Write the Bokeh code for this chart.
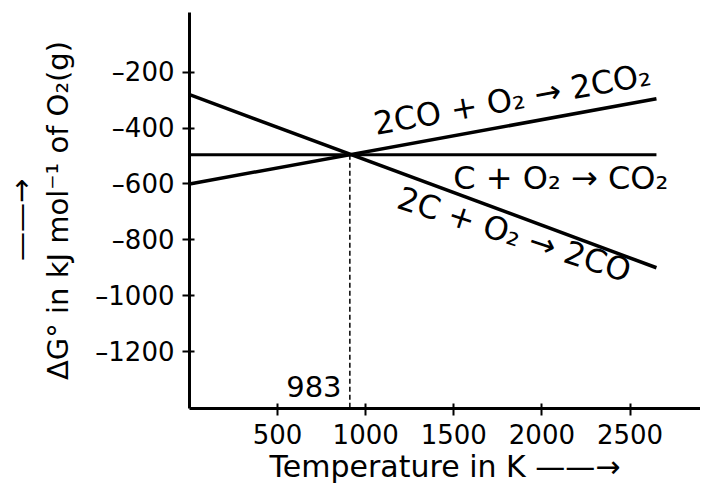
from bokeh.plotting import figure
from bokeh.models import FixedTicker, Label, Range1d
from bokeh.embed import file_html
from bokeh.resources import INLINE

# ---- data ----
T = [0, 2650]                       # temperature, K
co_to_co2 = [-600, -295]            # 2CO + O2 -> 2CO2
c_to_co2 = [-495, -495]             # C + O2 -> CO2
c_to_co = [-280, -900]              # 2C + O2 -> 2CO
cross_T = 910                       # where the dashed line meets the axis
cross_G = -495
cross_label = "983"

x_ticks = [500, 1000, 1500, 2000, 2500]
y_ticks = [-200, -400, -600, -800, -1000, -1200]
y_tick_labels = ["–200", "–400", "–600", "–800", "–1000", "–1200"]

label_co_co2 = "2CO + O₂ → 2CO₂"
label_c_co2 = "C + O₂ → CO₂"
label_c_co = "2C + O₂ → 2CO"

FONT = "DejaVu Sans"
Y_MIN, Y_MAX = -1404, 14

p = figure(width=700, height=492, output_backend="svg", toolbar_location=None,
           x_range=Range1d(0, 2900), y_range=Range1d(Y_MIN, Y_MAX),
           min_border_left=188, min_border_right=0, min_border_top=12,
           min_border_bottom=84)
p.outline_line_color = None
p.grid.visible = False
p.background_fill_color = "white"
p.border_fill_color = "white"

for ax in (p.xaxis[0], p.yaxis[0]):
    ax.axis_line_width = 3
    ax.axis_line_color = "black"
    ax.major_tick_line_width = 2
    ax.major_tick_line_color = "black"
    ax.major_tick_in = 5
    ax.major_tick_out = 7
    ax.minor_tick_line_color = None
    ax.major_label_text_font = FONT
    ax.major_label_text_font_size = "26px"
    ax.major_label_text_color = "black"
    ax.axis_label_text_font = FONT
    ax.axis_label_text_font_style = "normal"
    ax.axis_label_text_color = "black"

p.xaxis.ticker = FixedTicker(ticks=x_ticks)
p.yaxis.ticker = FixedTicker(ticks=y_ticks)
p.yaxis.major_label_overrides = {t: s for t, s in zip(y_ticks, y_tick_labels)}
p.xaxis.major_label_standoff = 8
p.yaxis.major_label_standoff = 8

p.xaxis.axis_label = "Temperature in K ——→"
p.xaxis.axis_label_text_font_size = "30px"
p.xaxis.axis_label_standoff = 2
# first line (the arrow) sits farthest from the axis once rotated
p.yaxis.axis_label = "——→\u00a0\u00a0\nΔG° in kJ mol⁻¹ of O₂(g)"
p.yaxis.axis_label_text_font_size = "29px"
p.yaxis.axis_label_text_line_height = 1.1
p.yaxis.axis_label_standoff = 17

# lines
p.line(T, co_to_co2, line_width=3.5, line_color="black")
p.line(T, c_to_co2, line_width=3, line_color="black")
p.line(T, c_to_co, line_width=3.5, line_color="black")
p.line([cross_T, cross_T], [cross_G, Y_MIN], line_width=1.5,
       line_color="black", line_dash="5 3")

# curve labels
p.add_layout(Label(x=1831, y=-296, text=label_co_co2, angle=10.3, angle_units="deg",
                   text_align="center", text_baseline="middle",
                   text_font=FONT, text_font_size="32px", text_color="black"))
p.add_layout(Label(x=1497, y=-578, text=label_c_co2,
                   text_align="left", text_baseline="alphabetic",
                   text_font=FONT, text_font_size="32px", text_color="black"))
p.add_layout(Label(x=1843, y=-781, text=label_c_co, angle=-18, angle_units="deg",
                   text_align="center", text_baseline="middle",
                   text_font=FONT, text_font_size="32px", text_color="black"))
p.add_layout(Label(x=863, y=-1325, text=cross_label,
                   text_align="right", text_baseline="alphabetic",
                   text_font=FONT, text_font_size="29px", text_color="black"))

open("out.html", "w").write(file_html(p, INLINE))
